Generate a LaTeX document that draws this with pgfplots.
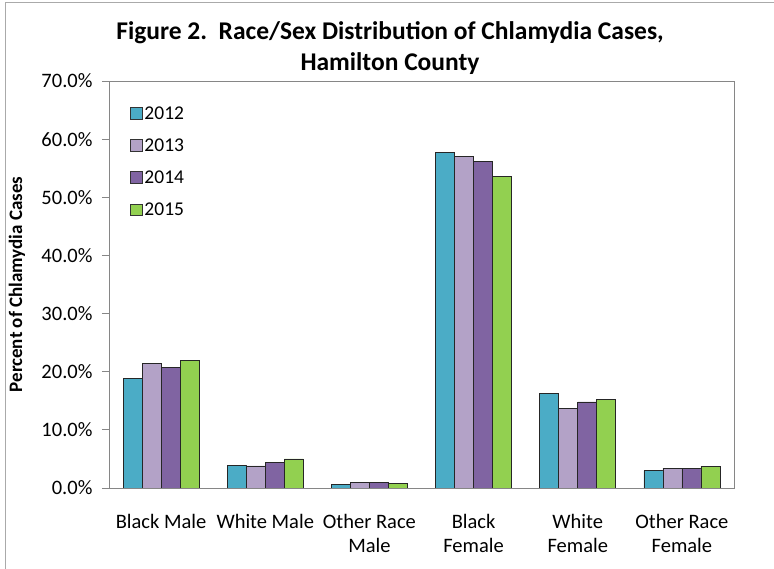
\documentclass[border=0pt]{standalone}
\usepackage{fontspec}
\setmainfont{Carlito}
\usepackage{pgfplots}
\pgfplotsset{compat=1.18}
\definecolor{c12}{HTML}{4BACC6}
\definecolor{c13}{HTML}{B3A2C7}
\definecolor{c14}{HTML}{8064A2}
\definecolor{c15}{HTML}{92D050}
\definecolor{axgray}{HTML}{868686}
\begin{document}
\begin{tikzpicture}
\useasboundingbox (0,0) rectangle (774pt,569pt);
\draw[axgray!70] (5pt,-1pt) rectangle (775pt,567pt);
\node[font=\fontsize{25.5}{31}\selectfont\bfseries, align=center] at (390pt,521pt)
  {Figure 2.\ \ Race/Sex Distribution of Chlamydia Cases,\\ Hamilton County};
\begin{axis}[
  at={(109pt,81pt)}, anchor=south west,
  scale only axis, width=625pt, height=407pt,
  ybar=0pt, bar width=19pt,
  xmin=-0.5, xmax=5.5, ymin=0, ymax=70,
  ytick={0,10,...,70},
  yticklabel={\pgfmathprintnumber[fixed,fixed zerofill,precision=1]{\tick}\%},
  /pgf/number format/assume math mode=true,
  xtick={0,...,5},
  xticklabels={Black Male, White Male, Other Race\\Male, Black\\Female, White\\Female, Other Race\\Female},
  xticklabel style={align=center, yshift=-16pt},
  yticklabel style={xshift=-6pt},
  x tick style={draw=none},
  minor xtick={-0.5,0.5,...,5.5},
  minor tick length=7pt,
  major tick length=7pt,
  tick align=outside,
  xtick pos=bottom, ytick pos=left,
  tick style={axgray, line width=0.8pt},
  axis line style={axgray, line width=0.8pt},
  ticklabel style={font=\fontsize{20.5}{24}\selectfont},
  ylabel={\bfseries Percent of Chlamydia Cases},
  ylabel style={font=\fontsize{19}{22}\selectfont, at={(-92pt,0.5)}, anchor=center},
  legend style={at={(rel axis cs:0.028,0.948)}, anchor=north west, draw=none,
    font=\fontsize{19.5}{22}\selectfont, row sep=14pt, fill=none},
  legend image code/.code={\draw[#1, draw=black!80] (0pt,-5.5pt) rectangle (12pt,6pt);},
  every axis plot/.append style={draw=black!85, line width=0.8pt},
]
\addplot[fill=c12] coordinates {(0,18.9) (1,3.9) (2,0.6) (3,57.7) (4,16.2) (5,3.0)};
\addplot[fill=c13] coordinates {(0,21.4) (1,3.8) (2,1.0) (3,57.0) (4,13.7) (5,3.4)};
\addplot[fill=c14] coordinates {(0,20.7) (1,4.4) (2,1.0) (3,56.2) (4,14.8) (5,3.3)};
\addplot[fill=c15] coordinates {(0,21.9) (1,5.0) (2,0.8) (3,53.6) (4,15.3) (5,3.7)};
\legend{2012,2013,2014,2015}
\end{axis}
\end{tikzpicture}
\end{document}
